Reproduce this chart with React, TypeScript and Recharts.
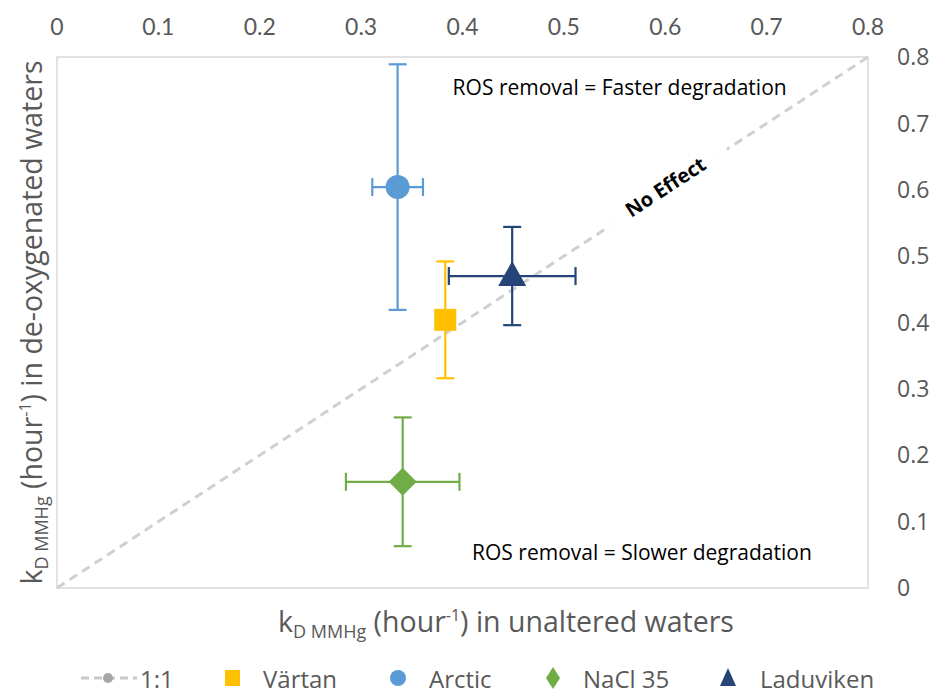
import React from "react";
import {
  ScatterChart,
  Scatter,
  XAxis,
  YAxis,
  ErrorBar,
  ReferenceLine,
  ReferenceArea,
  ReferenceDot,
  Customized,
} from "recharts";

const sites = ["Värtan", "Arctic", "NaCl 35", "Laduviken"];
const colors = ["#FFC000", "#5B9BD5", "#70AD47", "#264478"];
const unaltered = [0.383, 0.336, 0.341, 0.449];
const deoxygenated = [0.404, 0.604, 0.16, 0.47];
const errUnaltered = [0, 0.025, 0.056, 0.0625];
const errDeoxygenated = [0.088, 0.185, 0.097, 0.074];
const axisTicks = [0, 0.1, 0.2, 0.3, 0.4, 0.5, 0.6, 0.7, 0.8];
const oneToOne = [0, 0.8];

const FONT = "'Open Sans', sans-serif";
const NARROW = "'Liberation Sans Narrow', Lato, sans-serif";
const GREY = "#595959";

const W = 943;
const H = 695;
const PLOT = { left: 57, right: 868, top: 57, bottom: 588 };

function Square({ cx, cy, fill }: any) {
  return <rect x={cx - 11} y={cy - 11} width={22} height={22} fill={fill} />;
}
function Dot({ cx, cy, fill }: any) {
  return <circle cx={cx} cy={cy} r={12} fill={fill} />;
}
function Diamond({ cx, cy, fill }: any) {
  return (
    <path
      d={`M${cx},${cy - 14} L${cx + 14},${cy} L${cx},${cy + 14} L${cx - 14},${cy} Z`}
      fill={fill}
    />
  );
}
function Triangle({ cx, cy, fill }: any) {
  return (
    <path
      d={`M${cx},${cy - 15} L${cx + 14},${cy + 10} L${cx - 14},${cy + 10} Z`}
      fill={fill}
    />
  );
}
const shapes = [Square, Dot, Diamond, Triangle];

function NoEffect({ cx, cy }: any) {
  return (
    <g transform={`translate(${cx},${cy - 3}) rotate(-33.2)`}>
      <rect x={-72} y={-19} width={144} height={36} fill="#fff" opacity={0.95} />
      <text
        textAnchor="middle"
        dominantBaseline="central"
        fontFamily={FONT}
        fontWeight={700}
        fontSize={20}
        fill="#000"
      >
        No Effect
      </text>
    </g>
  );
}

function Note(text: string) {
  return function NoteShape({ cx, cy }: any) {
    return (
      <text
        x={cx}
        y={cy}
        textAnchor="middle"
        dominantBaseline="central"
        fontFamily={FONT}
        fontSize={21}
        fill="#000"
      >
        {text}
      </text>
    );
  };
}

function Extras() {
  const midY = (PLOT.top + PLOT.bottom) / 2;
  const legendY = 678;
  return (
    <g fontFamily={FONT} fill={GREY}>
      <text x={506} y={632} textAnchor="middle" fontSize={28.5} fill={GREY}>
        k<tspan fontSize={18} dy={6}>D MMHg</tspan>
        <tspan dy={-6}> (hour</tspan>
        <tspan fontSize={16} dy={-11}>-1</tspan>
        <tspan dy={11}>) in unaltered waters</tspan>
      </text>
      <text
        transform={`translate(42,${midY}) rotate(-90)`}
        textAnchor="middle"
        fontSize={28.5}
        fill={GREY}
      >
        k<tspan fontSize={18} dy={6}>D MMHg</tspan>
        <tspan dy={-6}> (hour</tspan>
        <tspan fontSize={16} dy={-11}>-1</tspan>
        <tspan dy={11}>) in de-oxygenated waters</tspan>
      </text>

      {/* legend */}
      <g fontSize={24}>
        <line x1={81} x2={137} y1={legendY} y2={legendY} stroke="#c8c8c8" strokeWidth={3} strokeDasharray="8 5" />
        <circle cx={108} cy={legendY} r={5} fill="#a6a6a6" />
        <text x={140} y={legendY} dominantBaseline="central" fill={GREY}>1:1</text>
        <rect x={225} y={legendY - 8} width={15} height={16} fill={colors[0]} />
        <text x={263} y={legendY} dominantBaseline="central" fill={GREY}>{sites[0]}</text>
        <circle cx={398} cy={legendY} r={8} fill={colors[1]} />
        <text x={429} y={legendY} dominantBaseline="central" fill={GREY}>{sites[1]}</text>
        <path d={`M553,${legendY - 11} L560,${legendY} L553,${legendY + 11} L546,${legendY} Z`} fill={colors[2]} />
        <text x={583} y={legendY} dominantBaseline="central" fill={GREY}>{sites[2]}</text>
        <path d={`M728,${legendY - 10} L736,${legendY + 8} L720,${legendY + 8} Z`} fill={colors[3]} />
        <text x={760} y={legendY} dominantBaseline="central" fill={GREY}>{sites[3]}</text>
      </g>
    </g>
  );
}

export default function App() {
  const series = sites.map((name, i) => ({
    name,
    color: colors[i],
    shape: shapes[i],
    data: [
      {
        x: unaltered[i],
        y: deoxygenated[i],
        ex: errUnaltered[i],
        ey: errDeoxygenated[i],
      },
    ],
  }));

  return (
    <div style={{ position: "absolute", left: 0, top: 0, width: W, height: H, background: "#fff" }}>
      <ScatterChart
        width={W}
        height={H}
        margin={{ top: PLOT.top - 40, right: W - PLOT.right - 60, bottom: H - PLOT.bottom, left: PLOT.left }}
      >
        <XAxis
          type="number"
          dataKey="x"
          orientation="top"
          domain={[0, 0.8]}
          ticks={axisTicks}
          height={40}
          axisLine={false}
          tickLine={false}
          tickMargin={16}
          tick={{ fill: GREY, fontSize: 23, fontFamily: NARROW }}
          tickFormatter={(v: number) => String(Number(v.toFixed(1)))}
          allowDataOverflow
        />
        <YAxis
          type="number"
          dataKey="y"
          orientation="right"
          domain={[0, 0.8]}
          ticks={axisTicks}
          width={60}
          axisLine={false}
          tickLine={false}
          tickMargin={23}
          tick={{ fill: GREY, fontSize: 23, fontFamily: FONT, textAnchor: "start" }}
          tickFormatter={(v: number) => String(Number(v.toFixed(1)))}
          allowDataOverflow
        />
        <ReferenceArea x1={0} x2={0.8} y1={0} y2={0.8} fill="none" stroke="#d9d9d9" strokeWidth={1.5} />
        <ReferenceLine
          segment={[
            { x: oneToOne[0], y: oneToOne[0] },
            { x: oneToOne[1], y: oneToOne[1] },
          ]}
          stroke="#d0d0d0"
          strokeWidth={3}
          strokeDasharray="9 6"
        />
        <ReferenceDot x={0.6} y={0.6} r={0} shape={NoEffect} />
        <ReferenceDot x={0.555} y={0.755} r={0} shape={Note("ROS removal = Faster degradation")} />
        <ReferenceDot x={0.577} y={0.054} r={0} shape={Note("ROS removal = Slower degradation")} />
        {series.map((s) => (
          <Scatter
            key={s.name}
            name={s.name}
            data={s.data}
            fill={s.color}
            shape={s.shape}
            isAnimationActive={false}
          >
            <ErrorBar dataKey="ey" direction="y" width={9} stroke={s.color} strokeWidth={2.2} />
            {s.data[0].ex > 0 && (
              <ErrorBar dataKey="ex" direction="x" width={9} stroke={s.color} strokeWidth={2.2} />
            )}
          </Scatter>
        ))}
        <Customized component={Extras} />
      </ScatterChart>
    </div>
  );
}
